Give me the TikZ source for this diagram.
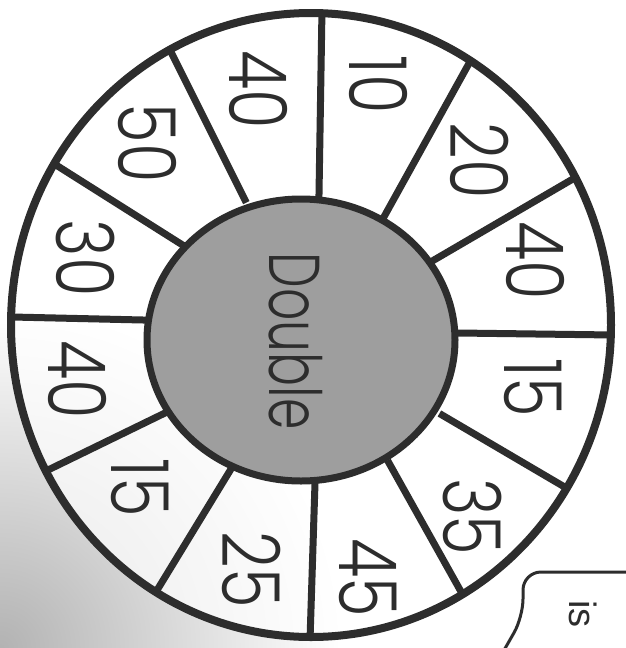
\documentclass[tikz,border=0pt]{standalone}
\usepackage{fontspec}
\IfFontExistsTF{Poppins Light}
  {\newfontfamily\wheelfont{Poppins Light}[FakeStretch=0.8]
   \newfontfamily\hubfont{Poppins Light}[FakeStretch=0.7]}
  {\newfontfamily\wheelfont{Poppins}[FakeStretch=0.8]
   \newfontfamily\hubfont{Poppins}[FakeStretch=0.7]}
\newfontfamily\notefont{Liberation Sans}
\definecolor{rim}{RGB}{45,45,45}
\definecolor{hub}{RGB}{158,158,158}
\tikzset{
  wheelnum/.style={rotate=-90, inner sep=0pt, text=rim,
    font=\wheelfont\fontsize{80}{80}\selectfont},
  spoke/.style={draw=rim, line width=7pt, shorten <=-3pt, shorten >=-6pt},
}
\begin{document}
\begin{tikzpicture}[x=1pt, y=-1pt]
\useasboundingbox (0,0) rectangle (625,648);
\begin{scope}
  \clip (0,0) rectangle (625,648);
  % shadow of the photo, lower left
  \shade[inner color=black!30, outer color=white] (0,648) circle (340);
\end{scope}

% ring
\fill[white, fill opacity=0.7] (311,325) ellipse [x radius=300, y radius=312];

% spokes: outer x/y, inner x/y
\begin{scope}
  \clip (311,325) ellipse [x radius=300, y radius=312];
  \foreach \ox/\oy/\ix/\iy in {322/9/319/194, 472/58/385/215, 578/176/434/260,
      614/335/458/333, 568/489/442/415, 464/597/389/463, 310/640/315/483,
      159/587/231/469, 48/470/165/413, 12/317/143/320, 56/165/181/244, 171/52/245/200}
    \draw[spoke] (\ix,\iy) -- (\ox,\oy);
\end{scope}

% hub and rim
\draw[draw=rim, fill=hub, line width=7pt] (301,340) ellipse [x radius=154, y radius=141];
\draw[rim, line width=8pt] (311,325) ellipse [x radius=300, y radius=312];

\node[rotate=-90, inner sep=0pt, text=rim, font=\hubfont\fontsize{72}{72}\selectfont]
  (hubtext) at (296,341) {Double};

% numbers
\foreach \x/\y/\n [count=\i] in {378/85/10, 480/161/20, 535/261/40, 533/388/15,
    472/517/35, 368/578/45, 252/570/25, 140/488/15, 77/380/40, 85/258/30,
    147/143/50, 258/90/40}
  \node[wheelnum] (num\i) at (\x,\y) {\n};

% speech bubble, cut off by the edge
\draw[rim, line width=3pt, rounded corners=18pt] (632,572) -- (523,572) -- (523,617) -- (503,652);
\node[rotate=-90, inner sep=0pt, text=rim, font=\notefont\fontsize{38}{38}\selectfont]
  (note) at (583,614) {is};
\end{tikzpicture}
\end{document}
